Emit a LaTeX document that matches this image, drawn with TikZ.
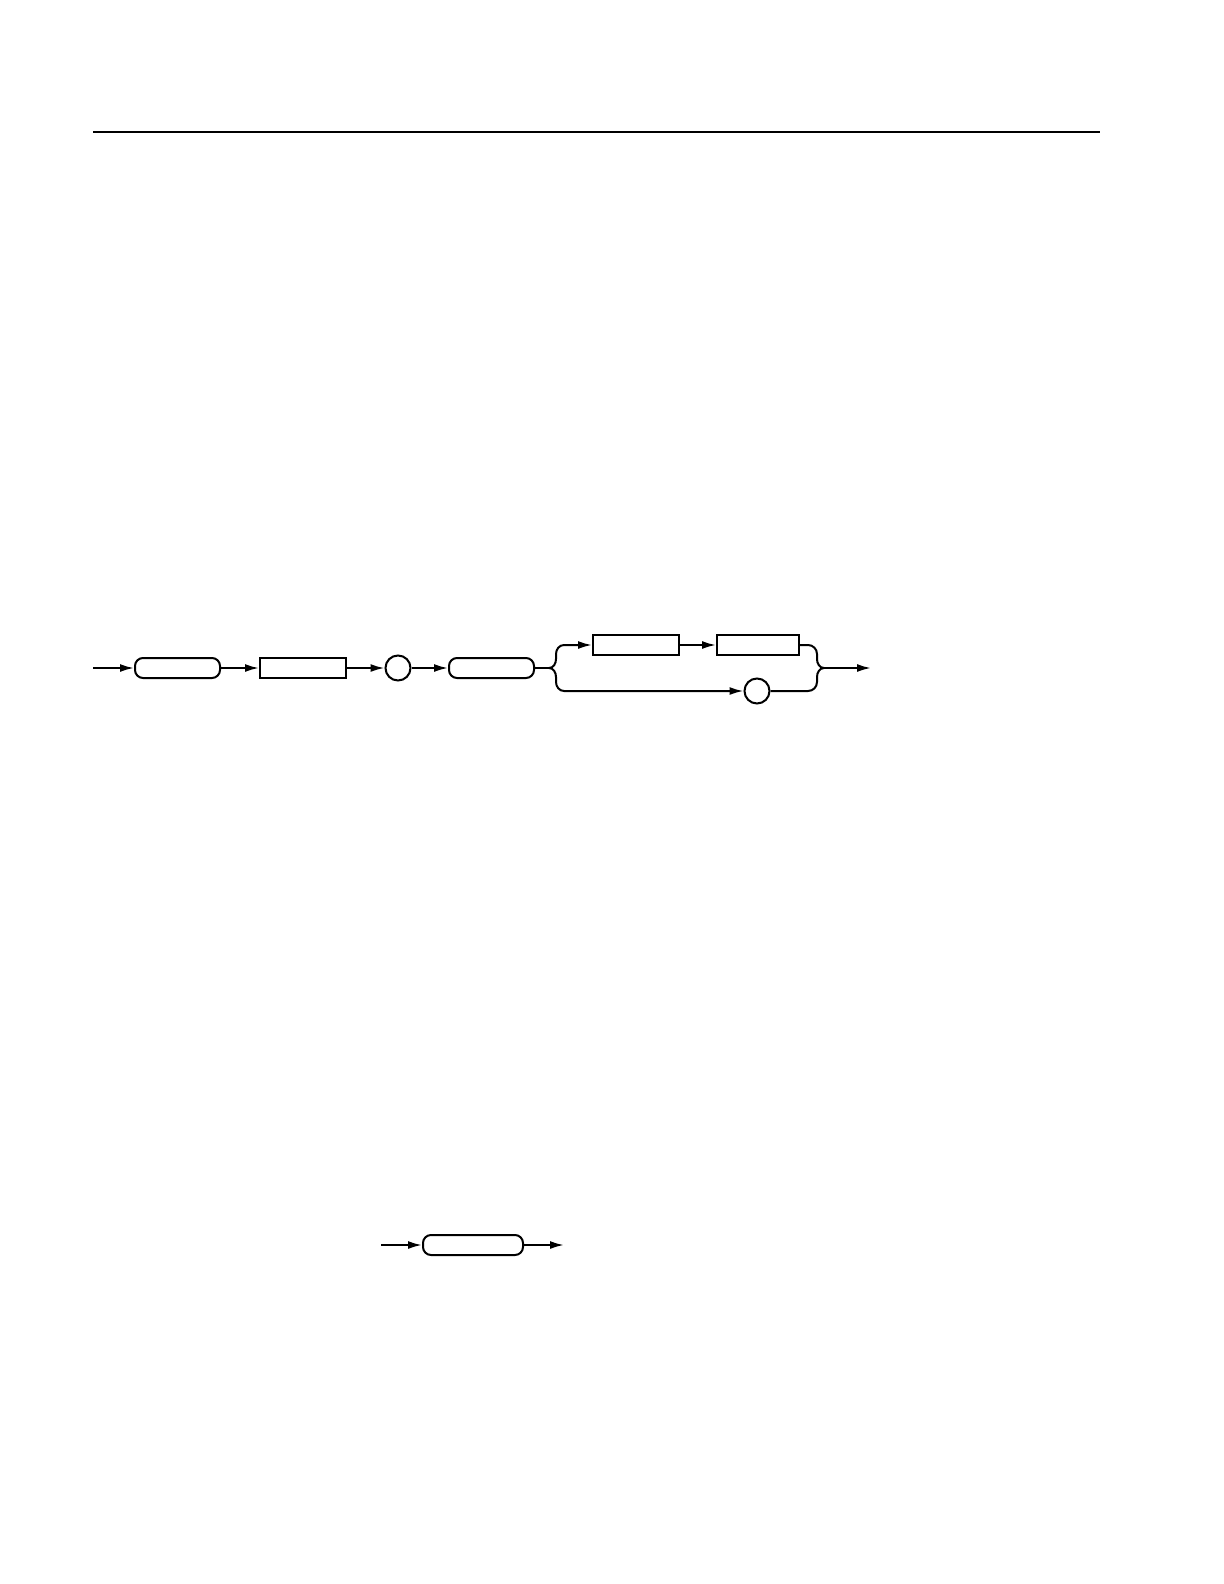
\documentclass[tikz,border=0pt]{standalone}
\usetikzlibrary{arrows.meta,shapes.misc}

\begin{document}
\begin{tikzpicture}[x=0.5pt,y=-0.5pt,line width=1pt,
	term/.style={draw, rounded corners=4pt, minimum width=#1, minimum height=10pt, inner sep=0pt},
	nonterm/.style={draw, rectangle, minimum width=#1, minimum height=9.75pt, inner sep=0pt},
	lit/.style={draw, circle, minimum size=12.5pt, inner sep=0pt},
	flow/.style={-{Latex[length=7pt,width=4pt]}}]
		\useasboundingbox (0,0) rectangle (1224,1584);
		\draw[line width=0.8pt] (93,132) -- (1100,132);
		% main row
		\coordinate (in) at (93,668);
		\node[term=42.5pt] (s1) at (177.5,668) {};
		\node[nonterm=43pt] (r1) at (303,668) {};
		\node[lit] (c1) at (398,668) {};
		\node[term=42.5pt] (s2) at (491.5,668) {};
		\draw[flow] (in) -- (s1);
		\draw[flow] (s1) -- (r1);
		\draw[flow] (r1) -- (c1);
		\draw[flow] (c1) -- (s2);
		% branches
		\coordinate (fork) at (549,668);
		\coordinate (join) at (824,668);
		\coordinate (out) at (871,668);
		\node[nonterm=43pt] (r2) at (636,645) {};
		\node[nonterm=41pt] (r3) at (758,645) {};
		\node[lit] (c2) at (757,691) {};
		\draw (s2) -- (fork);
		\draw[flow] (fork) to[out=0,in=-90] (556,659) -- (556,654) to[out=90,in=180] (564,645) -- (r2);
		\draw[flow] (r2) -- (r3);
		\draw[flow] (fork) to[out=0,in=90] (556,677) -- (556,682) to[out=-90,in=180] (564,691) -- (c2);
		\draw (r3) -- (808,645) to[out=0,in=90] (817,654) -- (817,659) to[out=-90,in=180] (join);
		\draw (c2) -- (808,691) to[out=0,in=-90] (817,682) -- (817,677) to[out=90,in=180] (join);
		\draw[flow] (join) -- (out);
		% second diagram
		\coordinate (in2) at (381,1245);
		\coordinate (out2) at (564,1245);
		\node[term=50pt] (s3) at (473,1245) {};
		\draw[flow] (in2) -- (s3);
		\draw[flow] (s3) -- (out2);
	\end{tikzpicture}
\end{document}
